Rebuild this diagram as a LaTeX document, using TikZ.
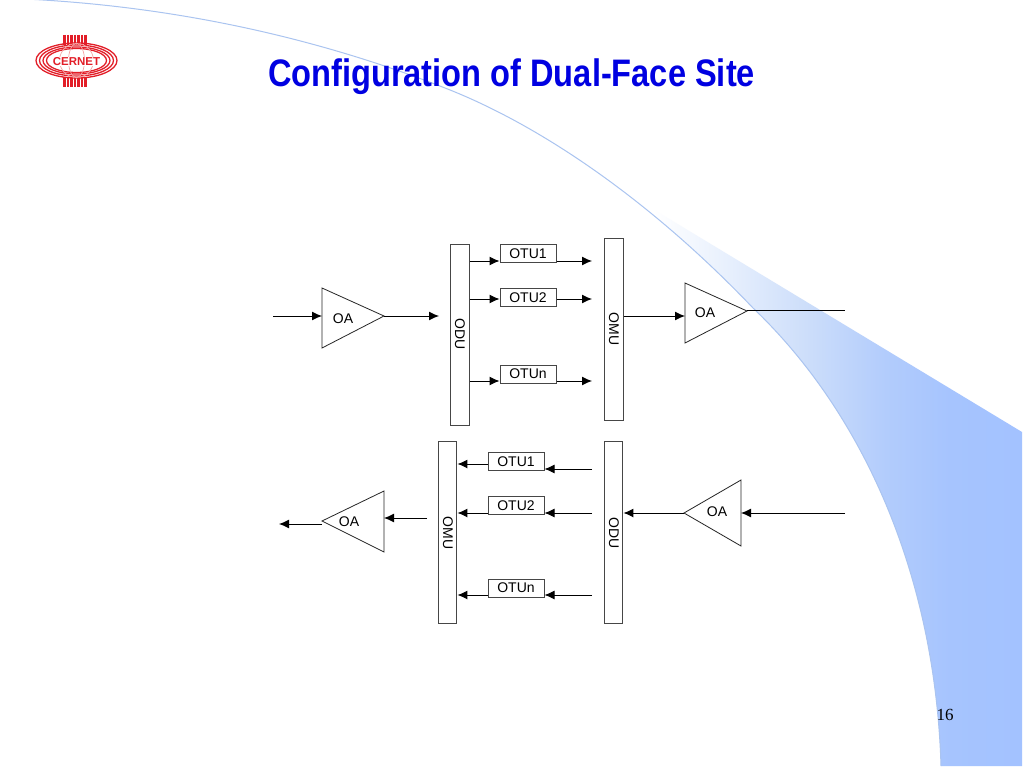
\documentclass[tikz,border=0pt]{standalone}
\usepackage{fontspec}
\setmainfont{Liberation Sans}
\newfontfamily\seriffont{Liberation Serif}
\usetikzlibrary{arrows.meta}
\definecolor{titleblue}{RGB}{0,0,225}
\definecolor{curveblue}{RGB}{170,196,240}
\definecolor{logored}{RGB}{226,30,40}
\definecolor{logopale}{RGB}{245,165,165}
\definecolor{boxgray}{RGB}{70,70,70}
\definecolor{swa}{RGB}{232,240,253}
\definecolor{swb}{RGB}{205,222,250}
\definecolor{swc}{RGB}{178,204,252}
\definecolor{swd}{RGB}{166,196,254}
\definecolor{swe}{RGB}{163,194,255}
\pgfdeclarehorizontalshading{swoosh}{100bp}{
  color(0bp)=(white);
  color(25bp)=(white);
  color(29bp)=(white);
  color(38bp)=(swa);
  color(48bp)=(swb);
  color(58bp)=(swc);
  color(66bp)=(swd);
  color(75bp)=(swe);
  color(100bp)=(swe)}
\tikzset{
  unit/.style={draw=boxgray,line width=1pt,fill=white,minimum width=18.5pt,minimum height=182pt,inner sep=0pt,font=\fontsize{14}{16}\selectfont},
  otubox/.style={draw=boxgray,line width=1pt,fill=white,minimum width=56pt,minimum height=18pt,inner sep=0pt,font=\fontsize{14}{16}\selectfont},
  amp/.style={draw=black!85,line width=0.8pt,fill=white,line join=miter},
  oalabel/.style={inner sep=0pt,font=\fontsize{14}{16}\selectfont},
  wire/.style={draw=black,line width=1pt},
  arr/.style={wire,-{Latex[length=10pt,width=9pt]}},
  logoline/.style={draw=logored,line width=1.3pt}
}
\begin{document}
\begin{tikzpicture}[x=1pt,y=-1pt]
\useasboundingbox (0,0) rectangle (1024,768);
\fill[white] (0,0) rectangle (1024,768);
% background sweep
\path[shading=swoosh] (621.1,189.8) -- (1022,432) -- (1022,766) -- (941,766)
  .. controls (935,570) and (860,410) .. (753,308)
  .. controls (709.7,262.6) and (665.2,223.1) .. (621.1,189.8) -- cycle;
\draw[curveblue,line width=1pt] (0,-2) .. controls (160,3) and (310,35) .. (445,88)
  .. controls (540,125) and (650,200) .. (753,308)
  .. controls (860,410) and (935,570) .. (941,766);
% logo
\foreach \x in {64.5,68,71.5,75,78.5,82,85.5}{
  \draw[logored,line width=2.2pt] (\x,35) -- (\x,45);
  \draw[logored,line width=2.2pt] (\x,77) -- (\x,87);
}
\foreach \a/\b in {40.5/17.5,37/15.5,33.5/13.5,30/12}{
  \draw[logoline] (76.5,60.5) ellipse ({\a pt} and {\b pt});
}
\draw[logopale,line width=0.7pt] (76.5,60.5) circle (17);
\draw[logopale,line width=0.7pt] (76.5,60.5) ellipse (8 and 17);
\draw[logopale,line width=0.7pt] (59.5,60.5) -- (93.5,60.5);
\node[inner sep=0.5pt,fill=white,text=logored,font=\bfseries\fontsize{11.5}{12}\selectfont] (logotext) at (76.5,61.5) {CERNET};
% title
\node[inner sep=0pt,text=titleblue,font=\bfseries] (title) at (511.5,77) {\resizebox{487pt}{!}{\scalebox{0.85}[1]{\fontsize{38}{40}\selectfont Configuration of Dual-Face Site}}};
% free ends and contact points
\coordinate (in1) at (273,316);
\coordinate (oa1back) at (322,316);
\coordinate (oa1tip) at (384,316);
\coordinate (oa1top) at (322,288);
\coordinate (oa1bot) at (322,348);
\coordinate (oa2top) at (685,283);
\coordinate (oa2bot) at (685,343);
\coordinate (oa2tip) at (747,311);
\coordinate (oa2back) at (685,316);
\coordinate (out2) at (845,310);
\coordinate (oa3tip) at (684,513);
\coordinate (oa3top) at (741,480);
\coordinate (oa3bot) at (741,546);
\coordinate (oa3back) at (741,513);
\coordinate (in3) at (845,513);
\coordinate (oa4tip) at (322,521);
\coordinate (oa4top) at (384,491);
\coordinate (oa4bot) at (384,552);
\coordinate (oa4back) at (384,518);
\coordinate (from4) at (427,518);
\coordinate (oa4out) at (322,524);
\coordinate (out4) at (279,524);
% upper units
\node[unit,minimum height=181pt] (odua) at (460,334.5) {};
\node[oalabel,rotate=-90] (odualabel) at (460,334) {ODU};
\node[unit,minimum height=181.5pt] (omua) at (614,329.3) {};
\node[oalabel,rotate=-90] (omualabel) at (614,329) {OMU};
\node[otubox] (otua1) at (528,253.5) {OTU1};
\node[otubox] (otua2) at (528,297.5) {OTU2};
\node[otubox] (otuan) at (528,374) {OTUn};
% lower units
\node[unit] (omub) at (447.7,532) {};
\node[oalabel,rotate=-90] (omublabel) at (448,533) {OMU};
\node[unit] (odub) at (613.7,532) {};
\node[oalabel,rotate=-90] (odublabel) at (614,533) {ODU};
\node[otubox] (otub1) at (516,461.5) {OTU1};
\node[otubox] (otub2) at (516,505.5) {OTU2};
\node[otubox] (otubn) at (516,588) {OTUn};
% amplifiers
\draw[amp] (oa1top) -- (oa1tip) -- (oa1bot) -- cycle;
\draw[amp] (oa2top) -- (oa2tip) -- (oa2bot) -- cycle;
\draw[amp] (oa3top) -- (oa3tip) -- (oa3bot) -- cycle;
\draw[amp] (oa4top) -- (oa4tip) -- (oa4bot) -- cycle;
\node[oalabel] (oa1) at (343,319) {OA};
\node[oalabel] (oa2) at (705,313) {OA};
\node[oalabel] (oa3) at (717,512) {OA};
\node[oalabel] (oa4) at (349,522) {OA};
% upper wiring
\coordinate (ra1) at (592,261);
\coordinate (ra2) at (592,299);
\coordinate (ran) at (592,381);
\coordinate (oduin) at (439,316);
\draw[arr] (in1) -- (oa1back);
\draw[arr] (oa1tip) -- (oduin);
\draw[arr] (odua.east |- ra1) -- (otua1.west |- ra1);
\draw[arr] (odua.east |- ra2) -- (otua2.west |- ra2);
\draw[arr] (odua.east |- ran) -- (otuan.west |- ran);
\draw[arr] (otua1.east |- ra1) -- (ra1);
\draw[arr] (otua2.east |- ra2) -- (ra2);
\draw[arr] (otuan.east |- ran) -- (ran);
\draw[arr] (omua.east |- oa2back) -- (oa2back);
\draw[wire,line width=0.8pt] (oa2tip |- out2) -- (out2);
% lower wiring
\coordinate (lb1) at (592,469);
\coordinate (lb2) at (592,513);
\coordinate (lbn) at (592,595);
\coordinate (mb1) at (488,464);
\draw[arr] (lb1) -- (otub1.east |- lb1);
\draw[arr] (lb2) -- (otub2.east |- lb2);
\draw[arr] (lbn) -- (otubn.east |- lbn);
\draw[arr] (mb1) -- (omub.east |- mb1);
\draw[arr] (otub2.west |- lb2) -- (omub.east |- lb2);
\draw[arr] (otubn.west |- lbn) -- (omub.east |- lbn);
\draw[arr] (in3) -- (oa3back);
\draw[arr] (oa3tip) -- (odub.east |- oa3tip);
\draw[arr] (from4) -- (oa4back);
\draw[arr] (oa4out) -- (out4);
% page number
\node[inner sep=0pt,font=\seriffont\fontsize{17}{18}\selectfont] (pagenum) at (945,714.5) {16};
\end{tikzpicture}
\end{document}
